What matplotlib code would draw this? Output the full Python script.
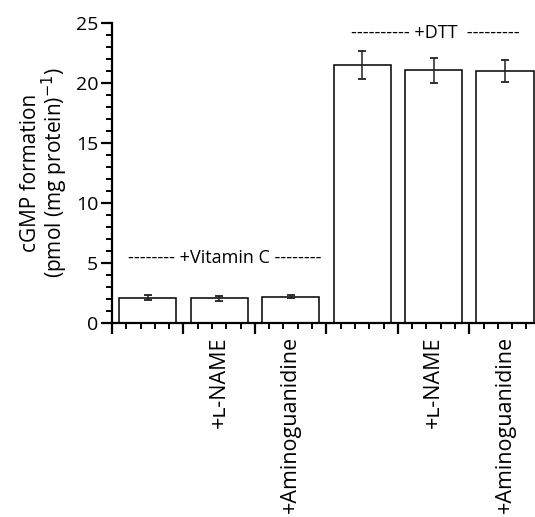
import matplotlib
matplotlib.use("Agg")
import matplotlib.pyplot as plt
import numpy as np
from matplotlib.ticker import FixedLocator, NullFormatter

plt.rcParams['font.family'] = ['Open Sans', 'DejaVu Sans']

categories = ["", "+ʟ-NAME", "+Aminoguanidine", "", "+ʟ-NAME", "+Aminoguanidine"]
values = [2.1, 2.05, 2.2, 21.5, 21.05, 21.0]
errors = [0.2, 0.2, 0.1, 1.2, 1.05, 0.95]
group_labels = ["-------- +Vitamin C --------", "---------- +DTT  ---------"]
y_ticks = [0, 5, 10, 15, 20, 25]

fig = plt.figure(figsize=(5.35, 5.17), dpi=100)
ax = fig.add_axes([112/535, 1 - 323/517, 1 - 112/535, 300/517])

x = np.arange(len(values))
ax.bar(x, values, width=0.8, color='white', edgecolor='black', linewidth=1.1, zorder=2)
ax.errorbar(x, values, yerr=errors, fmt='none', ecolor='#222222', elinewidth=1.1,
            capsize=2.6, capthick=1.3, zorder=3)

ax.set_xlim(-0.5, 5.42)
ax.set_ylim(0, 25)
ax.spines['top'].set_visible(False)
ax.spines['right'].set_visible(False)
ax.spines['left'].set_linewidth(1.6)
ax.spines['bottom'].set_linewidth(1.6)

ax.set_yticks(y_ticks)
ax.set_yticks(np.arange(0, 26, 1), minor=True)
ax.tick_params(axis='y', which='major', length=8, width=1.6, labelsize=14, pad=2)
ax.tick_params(axis='y', which='minor', length=4.5, width=1.4)

major_x = np.arange(-0.5, 5.5, 1.0)
minor_x = [b + k * 0.2 for b in major_x for k in range(1, 5) if b + k * 0.2 < 5.42]
ax.xaxis.set_major_locator(FixedLocator(major_x))
ax.xaxis.set_minor_locator(FixedLocator(minor_x))
ax.xaxis.set_major_formatter(NullFormatter())
ax.tick_params(axis='x', which='major', length=8, width=1.6)
ax.tick_params(axis='x', which='minor', length=4, width=1.4)

for xi, lab in zip(x, categories):
    if lab:
        ax.text(xi, -1.1, lab, rotation=90, ha='center', va='top', fontsize=15.5,
                transform=ax.transData, clip_on=False)

ax.text(1.08, 5.4, group_labels[0], ha='center', va='center', fontsize=13)
ax.text(4.03, 24.2, group_labels[1], ha='center', va='center', fontsize=13)

ax.set_ylabel("cGMP formation\n(pmol (mg protein)$^{-1}$)", fontsize=15, labelpad=4,
              linespacing=0.95)

fig.savefig("out.png", dpi=100)
